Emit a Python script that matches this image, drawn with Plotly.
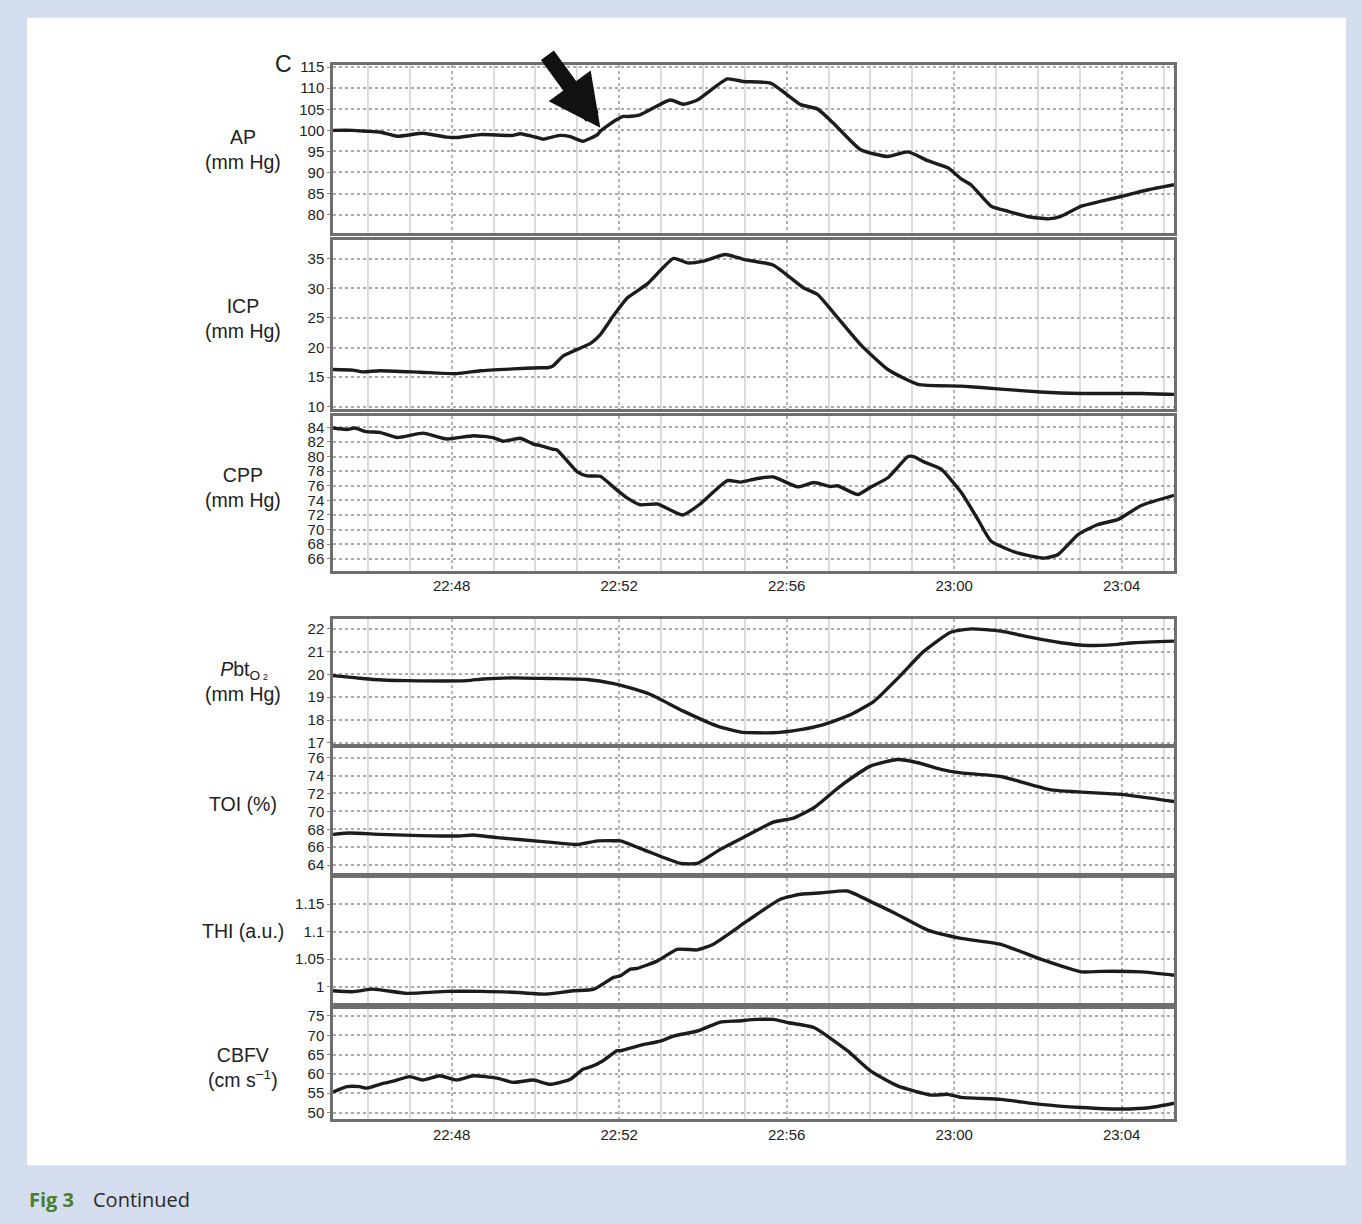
import plotly.graph_objects as go

DAY = "2000-01-01 "

# ---------------- data ----------------
ap_time = ["22:45:10", "22:45:38", "22:45:58", "22:46:17", "22:46:42", "22:47:19", "22:47:53", "22:48:07",
           "22:48:41", "22:49:28", "22:49:38", "22:50:07", "22:50:11", "22:50:35", "22:50:50", "22:51:08",
           "22:51:29", "22:51:33", "22:51:52", "22:52:06", "22:52:12", "22:52:30", "22:53:13", "22:53:32",
           "22:53:52", "22:54:35", "22:54:58", "22:55:37", "22:56:20", "22:56:44", "22:57:07", "22:57:46",
           "22:58:25", "22:58:54", "22:59:22", "22:59:51", "23:00:10", "23:00:24", "23:00:53", "23:01:17",
           "23:01:46", "23:02:15", "23:02:33", "23:03:02", "23:03:31", "23:04:09", "23:04:38", "23:05:15"]
ap_vals = [100.0, 100.0, 99.8, 99.6, 98.6, 99.3, 98.4, 98.3,
           99.0, 98.8, 99.2, 98.1, 97.9, 98.8, 98.5, 97.4,
           99.0, 99.8, 102.1, 103.3, 103.3, 103.7, 107.2, 106.2,
           107.2, 112.2, 111.6, 111.2, 106.1, 105.1, 101.7, 95.4,
           93.8, 94.9, 92.8, 91.1, 88.5, 87.1, 82.0, 80.8,
           79.5, 79.0, 79.6, 82.0, 83.2, 84.7, 85.9, 87.1]

icp_time = ["22:45:10", "22:45:38", "22:45:53", "22:46:17", "22:47:15", "22:48:07", "22:48:41", "22:49:28",
            "22:50:07", "22:50:17", "22:50:25", "22:50:40", "22:51:04", "22:51:19", "22:51:33", "22:51:52",
            "22:52:12", "22:52:40", "22:53:18", "22:53:38", "22:54:01", "22:54:32", "22:54:58", "22:55:41",
            "22:56:24", "22:56:44", "22:57:07", "22:57:46", "22:58:25", "22:59:08", "23:00:10", "23:01:07",
            "23:02:04", "23:03:02", "23:04:28", "23:05:15"]
icp_vals = [16.3, 16.2, 15.9, 16.1, 15.85, 15.6, 16.1, 16.4,
            16.6, 16.6, 16.9, 18.6, 19.9, 20.7, 22.2, 25.4,
            28.4, 30.7, 35.05, 34.3, 34.6, 35.7, 34.9, 33.9,
            30.1, 29.0, 25.9, 20.5, 16.3, 13.8, 13.5, 13.0,
            12.5, 12.25, 12.25, 12.1]

cpp_time = ["22:45:10", "22:45:30", "22:45:41", "22:45:58", "22:46:17", "22:46:42", "22:47:19", "22:47:53",
            "22:48:31", "22:48:59", "22:49:14", "22:49:38", "22:49:57", "22:50:07", "22:50:25", "22:50:31",
            "22:51:00", "22:51:14", "22:51:33", "22:51:52", "22:52:12", "22:52:30", "22:52:55", "22:53:31",
            "22:53:56", "22:54:35", "22:54:54", "22:55:18", "22:55:41", "22:56:16", "22:56:39", "22:57:03",
            "22:57:13", "22:57:42", "22:58:00", "22:58:25", "22:58:54", "22:59:02", "22:59:16", "22:59:41",
            "23:00:10", "23:00:34", "23:00:53", "23:01:31", "23:02:09", "23:02:29", "23:02:58", "23:03:26",
            "23:03:55", "23:04:28", "23:05:15"]
cpp_vals = [83.9, 83.7, 83.9, 83.4, 83.3, 82.6, 83.2, 82.4,
            82.85, 82.6, 82.1, 82.5, 81.7, 81.5, 81.0, 80.9,
            77.9, 77.35, 77.3, 75.8, 74.3, 73.4, 73.5, 72.0,
            73.5, 76.7, 76.5, 77.0, 77.2, 75.85, 76.45, 75.9,
            76.0, 74.8, 75.8, 77.1, 80.0, 80.0, 79.3, 78.3,
            75.1, 71.4, 68.4, 66.8, 66.1, 66.6, 69.35, 70.7,
            71.4, 73.3, 74.7]

pbt_time = ["22:45:10", "22:45:44", "22:46:07", "22:46:56", "22:48:22", "22:48:45", "22:49:28", "22:50:17",
            "22:51:14", "22:51:52", "22:52:16", "22:52:45", "22:53:32", "22:54:21", "22:54:54", "22:55:41",
            "22:56:20", "22:56:53", "22:57:32", "22:58:05", "22:58:43", "22:59:16", "22:59:55", "23:00:24",
            "23:01:07", "23:01:54", "23:02:33", "23:03:12", "23:03:49", "23:04:18", "23:05:15"]
pbt_vals = [19.95, 19.85, 19.78, 19.73, 19.73, 19.8, 19.85, 19.82,
            19.78, 19.6, 19.41, 19.12, 18.39, 17.73, 17.47, 17.44,
            17.58, 17.8, 18.24, 18.82, 19.95, 21.0, 21.85, 22.0,
            21.9, 21.6, 21.39, 21.27, 21.31, 21.39, 21.46]

toi_time = ["22:45:10", "22:45:34", "22:46:17", "22:47:04", "22:48:07", "22:48:31", "22:49:05", "22:50:07",
            "22:51:00", "22:51:29", "22:51:52", "22:52:02", "22:52:40", "22:53:28", "22:53:52", "22:54:25",
            "22:55:04", "22:55:41", "22:56:10", "22:56:39", "22:57:17", "22:58:00", "22:58:39", "22:59:08",
            "22:59:41", "23:00:10", "23:01:07", "23:02:19", "23:03:59", "23:05:15"]
toi_vals = [67.43, 67.58, 67.43, 67.32, 67.24, 67.35, 67.06, 66.65,
            66.3, 66.7, 66.72, 66.7, 65.56, 64.19, 64.19, 65.75,
            67.32, 68.8, 69.25, 70.4, 72.83, 75.06, 75.8, 75.44,
            74.7, 74.3, 73.9, 72.4, 71.9, 71.1]

thi_time = ["22:45:10", "22:45:38", "22:46:07", "22:46:56", "22:47:53", "22:48:41", "22:49:28", "22:50:07",
            "22:50:17", "22:50:54", "22:51:23", "22:51:52", "22:52:02", "22:52:16", "22:52:26", "22:52:55",
            "22:53:23", "22:53:52", "22:54:15", "22:55:04", "22:55:51", "22:56:20", "22:56:53", "22:57:27",
            "22:58:05", "22:58:33", "22:59:22", "23:00:10", "23:01:07", "23:02:04", "23:03:02", "23:03:31",
            "23:04:28", "23:05:15"]
thi_vals = [0.9926, 0.991, 0.9957, 0.988, 0.9915, 0.9915, 0.990, 0.9867,
            0.9867, 0.9926, 0.995, 1.017, 1.020, 1.032, 1.0333, 1.047,
            1.068, 1.067, 1.0774, 1.12, 1.159, 1.168, 1.171, 1.174,
            1.152, 1.135, 1.103, 1.088, 1.077, 1.05, 1.027, 1.028,
            1.027, 1.021]

cbfv_time = ["22:45:10", "22:45:30", "22:45:48", "22:45:58", "22:46:17", "22:46:36", "22:47:00", "22:47:19",
             "22:47:43", "22:48:07", "22:48:31", "22:49:05", "22:49:28", "22:49:57", "22:50:21", "22:50:50",
             "22:51:08", "22:51:19", "22:51:37", "22:51:57", "22:52:02", "22:52:30", "22:52:59", "22:53:18",
             "22:53:52", "22:54:25", "22:54:50", "22:55:18", "22:55:41", "22:56:01", "22:56:39", "22:57:27",
             "22:58:00", "22:58:39", "22:59:27", "22:59:51", "23:00:10", "23:01:07", "23:02:04", "23:03:02",
             "23:03:59", "23:04:42", "23:05:15"]
cbfv_vals = [55.3, 56.7, 56.7, 56.3, 57.3, 58.1, 59.3, 58.4,
             59.5, 58.4, 59.5, 58.9, 57.8, 58.4, 57.3, 58.6,
             61.2, 61.8, 63.4, 66.0, 66.0, 67.4, 68.5, 69.8,
             71.1, 73.4, 73.7, 74.1, 74.1, 73.3, 72.0, 66.0,
             60.8, 56.9, 54.5, 54.7, 53.9, 53.4, 52.1, 51.3,
             50.9, 51.3, 52.4]

panel_labels = ["AP<br>(mm Hg)", "ICP<br>(mm Hg)", "CPP<br>(mm Hg)", "<i>P</i>bt<sub>O</sub> <br>(mm Hg)",
                "TOI (%)", "THI (a.u.)", "CBFV<br>(cm s<sup>−1</sup>)"]
ap_ticks = [80, 85, 90, 95, 100, 105, 110, 115]
icp_ticks = [10, 15, 20, 25, 30, 35]
cpp_ticks = [66, 68, 70, 72, 74, 76, 78, 80, 82, 84]
pbt_ticks = [17, 18, 19, 20, 21, 22]
toi_ticks = [64, 66, 68, 70, 72, 74, 76]
thi_ticks = [1, 1.05, 1.1, 1.15]
thi_ticktext = ["1", "1.05", "1.1", "1.15"]
cbfv_ticks = [50, 55, 60, 65, 70, 75]
x_ticklabel_rows = [3, 7]
time_start, time_end = "22:45:10", "23:05:15"

# ---------------- layout helpers ----------------
W, H = 1362, 1224
def px_x(p): return p / W
def px_y(p):
    # slight vertical stretch about the page centre to match the reference placement
    return 1 - (H / 2 + (p - H / 2) / 0.99) / H

series = [
    (ap_time, ap_vals, ap_ticks, None, [75.7, 115.55], (65, 233), 150),
    (icp_time, icp_vals, icp_ticks, None, [9.7, 38.2], (240, 409), 319),
    (cpp_time, cpp_vals, cpp_ticks, None, [64.4, 85.6], (416, 571), 488),
    (pbt_time, pbt_vals, pbt_ticks, None, [16.93, 22.41], (620, 745), 682),
    (toi_time, toi_vals, toi_ticks, None, [63.07, 77.04], (749, 874), 805),
    (thi_time, thi_vals, thi_ticks, thi_ticktext, [0.970, 1.197], (879, 1004), 932),
    (cbfv_time, cbfv_vals, cbfv_ticks, None, [48.27, 76.73], (1010, 1120), 1068),
]

fig = go.Figure()
FONT = "Liberation Sans, Arial, sans-serif"
layout = dict(
    width=W, height=H, margin=dict(l=0, r=0, t=0, b=0),
    paper_bgcolor="#d5deef", plot_bgcolor="white", showlegend=False,
    font=dict(family=FONT, color="#222222"),
)
annotations = []
for i, (t, v, tv, tt, rng, (top, bot), lab_y) in enumerate(series, start=1):
    xa = "x" if i == 1 else f"x{i}"
    ya = "y" if i == 1 else f"y{i}"
    fig.add_trace(go.Scatter(
        x=[DAY + s for s in t], y=v, xaxis=xa, yaxis=ya, mode="lines",
        line=dict(color="#1c1c1c", width=3.4, shape="spline", smoothing=0.5),
        hoverinfo="skip"))
    layout[f"xaxis{'' if i == 1 else i}"] = dict(
        domain=[px_x(333), px_x(1174)], anchor=ya, type="date",
        range=[DAY + time_start, DAY + time_end],
        tick0=DAY + "22:48:00", dtick=240000, tickformat="%H:%M",
        showticklabels=(i in x_ticklabel_rows), ticks="",
        tickfont=dict(size=15, family=FONT, color="#222222"),
        showgrid=True, gridcolor="#b4b4b4", griddash="dot", gridwidth=1.5,
        minor=dict(dtick=60000, tick0=DAY + "22:48:00", showgrid=True,
                   gridcolor="#dcdcdc", gridwidth=2, griddash="solid", ticks=""),
        showline=True, mirror=True, linecolor="#6e6e6e", linewidth=2.5,
        zeroline=False, fixedrange=True,
        **({} if i == 1 else {"matches": "x"}),
    )
    ydict = dict(
        domain=[px_y(bot), px_y(top)], anchor=xa, range=rng,
        tickvals=tv, ticks="outside", ticklen=3, tickcolor="#8a8a8a", tickwidth=1,
        tickfont=dict(size=15, family=FONT, color="#222222"),
        showgrid=True, gridcolor="#ababab", griddash="dot", gridwidth=1.5,
        showline=True, mirror=True, linecolor="#6e6e6e", linewidth=2.5,
        zeroline=False, fixedrange=True,
    )
    if tt is not None:
        ydict["ticktext"] = tt
    layout[f"yaxis{'' if i == 1 else i}"] = ydict
    annotations.append(dict(
        text=panel_labels[i - 1], xref="paper", yref="paper",
        x=px_x(243), y=px_y(lab_y), xanchor="center", yanchor="middle",
        showarrow=False, font=dict(size=19.5, family=FONT, color="#222222"), align="center"))

# second-level subscript "2" of PbtO2
annotations.append(dict(text="2", xref="paper", yref="paper", x=px_x(265), y=px_y(678),
                        xanchor="center", yanchor="middle", showarrow=False,
                        font=dict(size=9, family=FONT, color="#222222")))
# panel letter
annotations.append(dict(text="C", xref="paper", yref="paper", x=px_x(283), y=px_y(64),
                        xanchor="center", yanchor="middle", showarrow=False,
                        font=dict(size=23, family=FONT, color="#222222")))
# event arrow pointing at the AP trace
annotations.append(dict(text="", xref="x", yref="y", x=DAY + "22:51:33", y=100.6,
                        ax=-54, ay=-74, showarrow=True, arrowhead=2, arrowsize=0.65,
                        arrowwidth=16, arrowcolor="#111111", standoff=0))
# caption
annotations.append(dict(text="<b>Fig 3</b>", xref="paper", yref="paper", x=px_x(27), y=px_y(1200),
                        xanchor="left", yanchor="middle", showarrow=False,
                        font=dict(size=20, family="Open Sans, sans-serif", color="#4a7d2e")))
annotations.append(dict(text="Continued", xref="paper", yref="paper", x=px_x(91), y=px_y(1200),
                        xanchor="left", yanchor="middle", showarrow=False,
                        font=dict(size=20, family="Open Sans, sans-serif", color="#2a2a2a")))
layout["annotations"] = annotations
layout["shapes"] = [dict(type="rect", xref="paper", yref="paper", x0=px_x(27), x1=px_x(1346),
                         y0=px_y(1166), y1=px_y(18), fillcolor="white", line=dict(width=0),
                         layer="below")]
fig.update_layout(**layout)
fig.write_html("out.html")
